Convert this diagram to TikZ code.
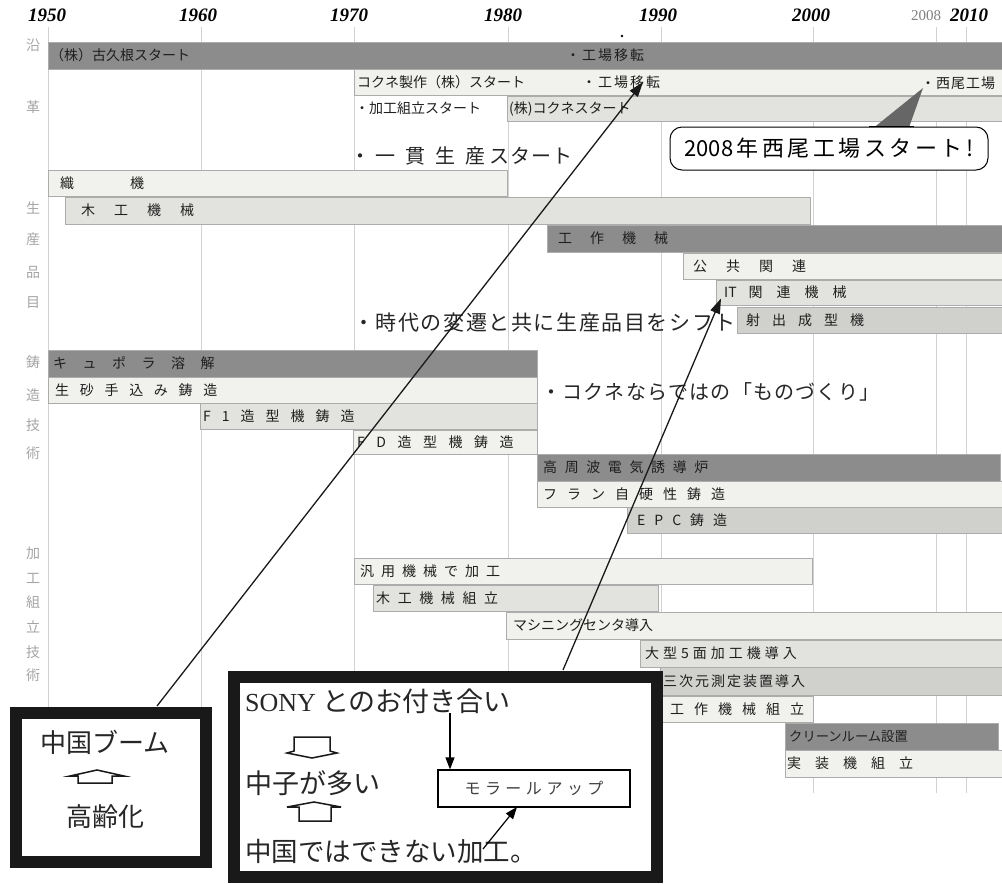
\documentclass[tikz,border=0pt]{standalone}
\usepackage{fontspec}
\setmainfont{Liberation Serif}
\newfontfamily\jp{Noto Sans CJK JP}
\usetikzlibrary{arrows.meta,calc}
\definecolor{bdark}{RGB}{140,140,140}
\definecolor{blight}{RGB}{241,241,237}
\definecolor{bmid}{RGB}{226,226,222}
\definecolor{bmed}{RGB}{208,208,205}
\definecolor{gridc}{RGB}{210,210,210}
\definecolor{catc}{RGB}{165,165,165}
\let\lsend\relax
\def\lsaux#1#2#3\lsend{#2\ifx\lsend#3\lsend\else\hspace{#1}\lsaux{#1}#3\lsend\fi}
\newcommand\ls[2]{\lsaux{#1}#2\lsend}
\tikzset{
  gridline/.style={draw=gridc, line width=0.7pt},
  barbox/.style={draw=gray!65, line width=0.5pt},
  barlbl/.style={anchor=west, inner sep=0pt, text=black!88, font=\jp\fontsize{14}{16}\selectfont},
  cat/.style={inner sep=0pt, text=catc, font=\jp\fontsize{14}{16}\selectfont},
  year/.style={inner sep=0pt, font=\bfseries\itshape\fontsize{19}{21}\selectfont},
  bigtxt/.style={anchor=west, inner sep=0pt, text=black!85, font=\jp\fontsize{20}{22}\selectfont},
  callout/.style={draw=black, line width=1pt, rounded corners=12pt, fill=white, minimum width=318pt, minimum height=43pt, inner sep=0pt, font=\jp\fontsize{22}{24}\selectfont},
  thickbox/.style={draw=black!90, fill=white, line width=12pt, inner sep=0pt},
  boxtxt/.style={anchor=west, inner sep=0pt, text=black!85, font=\jp\fontsize{26}{28}\selectfont},
  smallbox/.style={draw=black, line width=1.2pt, minimum width=192pt, minimum height=37pt, inner sep=0pt, text=black!75, font=\jp\fontsize{16}{18}\selectfont},
  bigarrow/.style={draw=black!90, line width=1.3pt, -{Triangle[length=15pt,width=10pt]}},
  oarrow/.style={draw=black!90, line width=1.5pt, line join=miter},
  ptr/.style={fill=black!60}
}
% name, x1, y1, x2, y2, fill, text x, text
\newcommand\barrow[8]{%
  \path[barbox, fill=#6] (#2,#3) rectangle (#4,#5);
  \node[barlbl] (#1) at (#7,{(#3+#5)/2}) {#8};}
\begin{document}
\begin{tikzpicture}[x=1pt,y=-1pt]
\useasboundingbox[fill=white] (0,0) rectangle (1002,884);

% grid
\foreach \gx in {48,201,354,508,661,813,936,966}
  \draw[gridline] (\gx,27) -- (\gx,793);

% years
\node[year] (y1950) at (47,15) {1950};
\node[year] (y1960) at (198,15) {1960};
\node[year] (y1970) at (349,15) {1970};
\node[year] (y1980) at (503,15) {1980};
\node[year] (y1990) at (658,15) {1990};
\node[year] (y2000) at (811,15) {2000};
\node[inner sep=0pt, text=gray, font=\fontsize{15}{17}\selectfont] (y2008) at (926,16) {2008};
\node[year] (y2010) at (969,15) {2010};
\fill (622,36) circle (1.3);

% category labels
\foreach \t/\yy [count=\i] in {沿/45,革/107,生/208,産/239,品/272,目/303,鋳/362,造/395,技/425,術/453,加/553,工/578,組/602,立/627,技/652,術/675}
  \node[cat] (cat\i) at (33,\yy) {\t};

% history rows
\barrow{r1}{48}{42}{1002}{69}{bdark}{50}{（株）古久根スタート}
\node[barlbl] (kojo1) at (566,55) {\ls{2pt}{・工場移転}};
\barrow{r2}{354}{69}{1002}{95}{blight}{357}{コクネ製作（株）スタート}
\node[barlbl] (kojo2) at (582,82) {\ls{2pt}{・工場移転}};
\node[barlbl] (nishio) at (921,83) {\ls{1pt}{・西尾工場}};
\barrow{r3}{507}{96}{1002}{121}{bmid}{509}{(株)コクネスタート}
\node[barlbl] (kakou) at (355,108) {・加工組立スタート};

\node[bigtxt] (ikkan) at (350,156) {・\hspace{5pt}\ls{10pt}{一貫生産}\hspace{4pt}\ls{1pt}{スタート}};

% callout
\node[callout] (c2008) at (829,148.5) {\ls{3.5pt}{{2008}年西尾工場スタート!}};
\fill[ptr] ($(c2008.north)+(45,1)$) -- ($(nishio.west)+(2,5)$) -- ($(c2008.north)+(80,1)$) -- cycle;
\draw[line width=1pt] ($(c2008.north)+(40,0)$) -- ($(c2008.north)+(85,0)$);

% products
\barrow{shokki}{48}{170}{507}{196}{blight}{60}{\ls{56pt}{織機}}
\barrow{mokko}{65}{197}{810}{224}{bmid}{81}{\ls{19pt}{木工機械}}
\barrow{kosaku}{547}{225}{1002}{252}{bdark}{558}{\ls{18pt}{工作機械}}
\barrow{kokyo}{683}{253}{1002}{279}{blight}{693}{\ls{19pt}{公共関連}}
\barrow{itrow}{716}{280}{1002}{305}{bmid}{724}{IT\hspace{12pt}\ls{14pt}{関連機械}}
\barrow{shashutsu}{737}{307}{1002}{333}{bmed}{746}{\ls{12pt}{射出成型機}}
\node[bigtxt, font=\jp\fontsize{21}{23}\selectfont] (jidai) at (353,323) {\ls{1.6pt}{・時代の変遷と共に生産品目をシフト}};

% casting
\barrow{cupola}{48}{350}{537}{377}{bdark}{53}{\ls{15.5pt}{キュポラ溶解}}
\barrow{namazuna}{48}{377}{537}{403}{blight}{55}{\ls{10.7pt}{生砂手込み鋳造}}
\barrow{fone}{200}{403}{537}{429}{bmid}{203}{\ls{11pt}{F1造型機鋳造}}
\barrow{fd}{353}{430}{537}{454}{blight}{357}{\ls{11.5pt}{FD造型機鋳造}}
\node[bigtxt] (kokune) at (541,392) {\ls{1.2pt}{・コクネならではの「ものづくり」}};
\barrow{koshuha}{537}{454}{1000}{481}{bdark}{543}{\ls{7.6pt}{高周波電気誘導炉}}
\barrow{furan}{537}{481}{1002}{507}{blight}{543}{\ls{10pt}{フラン自硬性鋳造}}
\barrow{epc}{627}{507}{1002}{533}{bmed}{637}{\ls{9pt}{EPC鋳造}}

% processing
\barrow{hanyo}{354}{558}{812}{584}{blight}{360}{\ls{7pt}{汎用機械で加工}}
\barrow{mokkokumi}{373}{585}{658}{611}{bmid}{376}{\ls{7.6pt}{木工機械組立}}
\barrow{mc}{506}{612}{1002}{639}{blight}{513}{マシニングセンタ導入}
\barrow{ogata}{640}{640}{1002}{667}{bmid}{645}{\ls{4pt}{大型5面加工機導入}}
\barrow{sanji}{660}{667}{1002}{695}{bmed}{663}{\ls{2pt}{三次元測定装置導入}}
\barrow{kosakukumi}{660}{696}{813}{722}{blight}{670}{\ls{10pt}{工作機械組立}}
\barrow{clean}{785}{723}{998}{750}{bdark}{789}{\fontsize{13.3}{15}\selectfont クリーンルーム設置}
\barrow{jisso}{785}{750}{1002}{777}{blight}{787}{\ls{14pt}{実装機組立}}

% left box
\node[thickbox, minimum width=190pt, minimum height=149pt] (boxL) at (111,787.5) {};
\node[boxtxt, anchor=center] (boom) at (105,742) {中国ブーム};
\draw[oarrow, shift={(97,770)}] (-27,6) -- (0,0) -- (27,6) -- (15,6) -- (15,13) -- (-19,13) -- (-19,6) -- cycle;
\node[boxtxt, anchor=center] (korei) at (105,817) {高齢化};

% big box
\node[thickbox, minimum width=423pt, minimum height=200pt] (boxB) at (445,776.5) {};
\node[boxtxt, font=\jp\fontsize{27}{29}\selectfont] (sony) at (245,701) {{\rmfamily\fontsize{26}{28}\selectfont SONY} とのお付き合い};
\draw[oarrow, shift={(312,737)}] (-18,0) -- (18,0) -- (18,14) -- (25,16) -- (0,21) -- (-25,16) -- (-18,14) -- cycle;
\node[boxtxt, font=\jp\fontsize{27}{29}\selectfont] (nakago) at (245,783) {中子が多い};
\draw[oarrow, shift={(314,802)}] (-27,5) -- (0,0) -- (27,5) -- (17,5) -- (17,19) -- (-15,19) -- (-15,5) -- cycle;
\node[boxtxt, font=\jp\fontsize{26.5}{29}\selectfont] (china) at (245,851) {中国ではできない加工。};
\node[smallbox] (morale) at (534,788.5) {\ls{4.5pt}{モラールアップ}};

\coordinate (sonyfoot) at (450,713);
\coordinate (kafoot) at (483,849);
\draw[line width=1.2pt, -{Triangle[length=12pt,width=9pt]}] (sonyfoot) -- (morale.north -| sonyfoot);
\draw[line width=1.2pt, -{Triangle[length=12pt,width=9pt]}] (kafoot) -- (517,807);

% long arrows
\coordinate (a1s) at (157,706);
\coordinate (a1e) at ($(kojo2.west)+(61,0)$);
\draw[bigarrow] (a1s) -- (a1e);
\coordinate (a2s) at (563,670);
\coordinate (a2e) at ($(itrow.west)+(-3,6)$);
\draw[bigarrow] (a2s) -- (a2e);
\end{tikzpicture}
\end{document}
